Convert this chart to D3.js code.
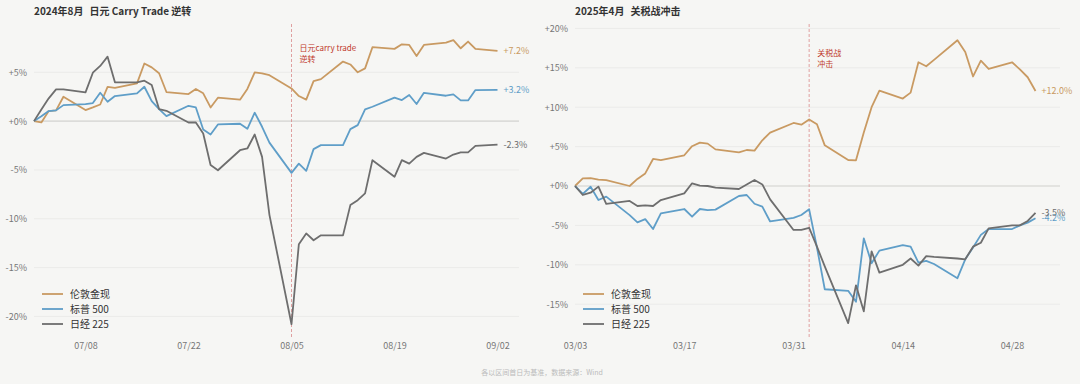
<!DOCTYPE html>
<html>
<head>
<meta charset="utf-8">
<script src="https://cdn.jsdelivr.net/npm/d3@7"></script>
<style>
  html, body { margin: 0; padding: 0; background: #f6f6f4; }
  svg { display: block; font-family: "Noto Sans CJK SC", "Noto Sans", sans-serif; }
</style>
</head>
<body>
<div id="chart"></div>
<script>
// series names + colours
const seriesNames = ["伦敦金现", "标普 500", "日经 225"];
const seriesColors = ["#c99a62", "#5f9ec8", "#6e6e6e"];

// panel 1: 2024-07-01 .. 2024-09-02 (trading days)
const datesA = [
  "2024-07-01","2024-07-02","2024-07-03","2024-07-04","2024-07-05",
  "2024-07-08","2024-07-09","2024-07-10","2024-07-11","2024-07-12",
  "2024-07-15","2024-07-16","2024-07-17","2024-07-18","2024-07-19",
  "2024-07-22","2024-07-23","2024-07-24","2024-07-25","2024-07-26",
  "2024-07-29","2024-07-30","2024-07-31","2024-08-01","2024-08-02",
  "2024-08-05","2024-08-06","2024-08-07","2024-08-08","2024-08-09",
  "2024-08-12","2024-08-13","2024-08-14","2024-08-15","2024-08-16",
  "2024-08-19","2024-08-20","2024-08-21","2024-08-22","2024-08-23",
  "2024-08-26","2024-08-27","2024-08-28","2024-08-29","2024-08-30",
  "2024-09-02"
];
const goldA = [
  0, -0.13, 1.03, 1.1, 2.5,
  1.13, 1.4, 1.7, 3.5, 3.4,
  3.87, 5.9, 5.5, 4.9, 2.98,
  2.77, 3.3, 2.85, 1.4, 2.4,
  2.2, 3.3, 5.0, 4.9, 4.7,
  3.35, 2.57, 2.2, 4.1, 4.3,
  6.1, 5.8, 5.0, 5.4, 7.57,
  7.4, 7.87, 7.8, 6.67, 7.8,
  8.04, 8.3, 7.46, 8.15, 7.39,
  7.2
];
const spxA = [
  0, 0.5, 1.03, 1.1, 1.64,
  1.75, 1.85, 2.9, 1.98, 2.57,
  2.84, 3.52, 2.05, 1.23, 0.51,
  1.57, 1.4, -0.86, -1.37, -0.34,
  -0.27, -0.79, 0.86, -0.58, -2.2,
  -5.3, -4.35, -5.1, -2.87, -2.46,
  -2.46, -0.82, -0.41, 1.2, 1.47,
  2.4, 2.16, 2.67, 1.75, 2.9,
  2.6, 2.74, 2.12, 2.12, 3.18,
  3.2
];
const nkyA = [
  0, 1.2, 2.33, 3.25, 3.25,
  2.94, 4.96, 5.65, 6.6, 3.97,
  3.97, 4.14, 3.7, 1.23, 1.06,
  -0.14, -0.14, -1.27, -4.5, -5.03,
  -2.98, -2.8, -1.37, -3.66, -9.6,
  -20.8, -12.6, -11.5, -12.2, -11.7,
  -11.7, -8.6, -8.1, -7.4, -4.0,
  -5.7, -4.0, -4.35, -3.66, -3.25,
  -3.83, -3.42, -3.2, -3.2, -2.53,
  -2.4
];
const endLabelsA = ["+7.2%", "+3.2%", "-2.3%"];
const xTicksA = ["2024-07-08", "2024-07-22", "2024-08-05", "2024-08-19", "2024-09-02"];
const yTicksA = [-20, -15, -10, -5, 0, 5];

// panel 2: 2025-03-03 .. 2025-05-01
const datesB = [
  "2025-03-03","2025-03-04","2025-03-05","2025-03-06","2025-03-07",
  "2025-03-10","2025-03-11","2025-03-12","2025-03-13","2025-03-14",
  "2025-03-17","2025-03-18","2025-03-19","2025-03-20","2025-03-21",
  "2025-03-24","2025-03-25","2025-03-26","2025-03-27","2025-03-28",
  "2025-03-31","2025-04-01","2025-04-02","2025-04-03","2025-04-04",
  "2025-04-07","2025-04-08","2025-04-09","2025-04-10","2025-04-11",
  "2025-04-14","2025-04-15","2025-04-16","2025-04-17","2025-04-18",
  "2025-04-21","2025-04-22","2025-04-23","2025-04-24","2025-04-25",
  "2025-04-28","2025-04-29","2025-04-30","2025-05-01"
];
const goldB = [
  0, 0.97, 1.0, 0.8, 0.75,
  0, 0.9, 1.6, 3.43, 3.28,
  3.9, 5.05, 5.5, 5.38, 4.65,
  4.27, 4.57, 4.49, 5.8, 6.77,
  8.0, 7.78, 8.45, 7.83, 5.16,
  3.3, 3.26, 6.8, 10.0, 12.1,
  11.1, 11.85, 15.7, 15.2, 16.0,
  18.5, 17.0, 13.9, 15.9, 14.85,
  15.7, 14.8, 13.8, 12.05
];
const spxB = [
  0, -1.0, -0.1, -1.78, -1.35,
  -3.7, -4.62, -4.2, -5.46, -3.47,
  -2.92, -3.9, -2.92, -3.05, -3.0,
  -1.27, -1.14, -2.25, -2.62, -4.5,
  -4.05, -3.68, -2.96, -7.8, -13.1,
  -13.3, -14.7, -6.64, -9.8, -8.2,
  -7.5, -7.7, -9.73, -9.5, -9.9,
  -11.7, -9.3, -7.8, -6.2, -5.46,
  -5.46, -5.0, -4.65, -4.1
];
const nkyB = [
  0, -1.14, -0.85, -0.08, -2.28,
  -1.9, -2.54, -2.45, -2.54, -1.78,
  -0.93, 0.34, 0.04, 0, -0.2,
  -0.38, 0.2, 0.76, 0.2, -1.7,
  -5.58, -5.58, -5.3, -7.7, -10.2,
  -17.4, -12.6, -15.9, -8.3, -11.0,
  -10.0, -9.2, -10.1, -8.9, -9.0,
  -9.2, -9.3, -7.7, -7.2, -5.37,
  -5.0, -5.0, -4.44, -3.4
];
const endLabelsB = ["+12.0%", "-4.2%", "-3.5%"];
const xTicksB = ["2025-03-03", "2025-03-17", "2025-03-31", "2025-04-14", "2025-04-28"];
const yTicksB = [-15, -10, -5, 0, 5, 10, 15, 20];

const W = 1080, H = 384;
const parse = d3.timeParse("%Y-%m-%d");

const svg = d3.select("#chart").append("svg")
  .attr("width", W).attr("height", H);
svg.append("rect").attr("width", W).attr("height", H).attr("fill", "#f6f6f4");

function drawPanel(p) {
  const dates = p.dates.map(parse);
  const x = d3.scaleTime()
    .domain([dates[0], dates[dates.length - 1]])
    .range([p.x0, p.x1]);
  const y = d3.scaleLinear().domain(p.yDomain).range(p.yRange);
  const g = svg.append("g");

  // title (two parts with a wider gap)
  const t = g.append("text")
    .attr("x", p.x0).attr("y", 15)
    .attr("font-size", 10).attr("font-weight", "bold").attr("fill", "#333");
  t.append("tspan").text(p.title[0]);
  t.append("tspan").attr("dx", 6).text(p.title[1]);

  // grid
  g.selectAll(".grid").data(p.yTicks).join("line")
    .attr("x1", p.x0).attr("x2", p.gridEnd)
    .attr("y1", d => y(d)).attr("y2", d => y(d))
    .attr("stroke", d => d === 0 ? "#dcdcda" : "#ebebe9")
    .attr("stroke-width", d => d === 0 ? 1.6 : 1);

  // y axis
  const ya = g.append("g")
    .attr("transform", `translate(${p.x0},0)`)
    .call(d3.axisLeft(y).tickValues(p.yTicks).tickSize(0).tickPadding(7)
      .tickFormat(d => (d >= 0 ? "+" : "") + d + "%"));
  ya.select(".domain").remove();
  ya.selectAll("text").attr("font-size", 9).attr("fill", "#777")
    .attr("font-family", "'Noto Sans CJK SC', sans-serif");

  // x axis
  const xa = g.append("g")
    .attr("transform", `translate(0,${p.xAxisY})`)
    .call(d3.axisBottom(x).tickValues(p.xTicks.map(parse)).tickSize(0).tickPadding(6)
      .tickFormat(d3.timeFormat("%m/%d")));
  xa.select(".domain").remove();
  xa.selectAll("text").attr("font-size", 9).attr("fill", "#777")
    .attr("font-family", "'Noto Sans CJK SC', sans-serif");

  // event marker
  const ex = x(parse(p.event));
  g.append("line")
    .attr("x1", ex).attr("x2", ex).attr("y1", 24).attr("y2", 338)
    .attr("stroke", "#d98a8a").attr("stroke-width", 0.8)
    .attr("stroke-dasharray", "3,2");
  p.eventText.forEach((s, i) => {
    g.append("text")
      .attr("x", ex + 8).attr("y", p.eventY + i * 10.5)
      .attr("font-size", 8).attr("fill", "#c0392b")
      .text(s);
  });

  // lines
  const line = d3.line().x(d => x(d[0])).y(d => y(d[1]));
  p.series.forEach((vals, i) => {
    const pts = vals.map((v, j) => [dates[j], v]);
    g.append("path").datum(pts)
      .attr("d", line)
      .attr("fill", "none")
      .attr("stroke", seriesColors[i])
      .attr("stroke-width", 1.8)
      .attr("stroke-linejoin", "round");
    const last = pts[pts.length - 1];
    g.append("text")
      .attr("x", x(last[0]) + 6).attr("y", y(last[1]))
      .attr("dy", "0.35em")
      .attr("font-size", 9).attr("fill", seriesColors[i])
      .text(p.endLabels[i]);
  });

  // legend
  seriesNames.forEach((name, i) => {
    const ly = 294 + i * 15;
    g.append("line")
      .attr("x1", p.x0 + 8).attr("x2", p.x0 + 29)
      .attr("y1", ly).attr("y2", ly)
      .attr("stroke", seriesColors[i]).attr("stroke-width", 1.8);
    g.append("text")
      .attr("x", p.x0 + 36).attr("y", ly).attr("dy", "0.35em")
      .attr("font-size", 10).attr("fill", "#333")
      .text(name);
  });
}

drawPanel({
  title: ["2024年8月", "日元 Carry Trade 逆转"],
  dates: datesA, series: [goldA, spxA, nkyA], endLabels: endLabelsA,
  x0: 34, x1: 497.5, gridEnd: 519,
  yDomain: [-20, 5], yRange: [316.4, 72.3], yTicks: yTicksA,
  xTicks: xTicksA, xAxisY: 337,
  event: "2024-08-05", eventText: ["日元carry trade", "逆转"], eventY: 51
});

drawPanel({
  title: ["2025年4月", "关税战冲击"],
  dates: datesB, series: [goldB, spxB, nkyB], endLabels: endLabelsB,
  x0: 575, x1: 1035.5, gridEnd: 1060,
  yDomain: [-15, 20], yRange: [304.2, 28.4], yTicks: yTicksB,
  xTicks: xTicksB, xAxisY: 337,
  event: "2025-04-02", eventText: ["关税战", "冲击"], eventY: 56
});

// footer
svg.append("text")
  .attr("x", 542).attr("y", 375)
  .attr("text-anchor", "middle")
  .attr("font-size", 7).attr("fill", "#bbb")
  .text("各以区间首日为基准，数据来源：Wind");
</script>
</body>
</html>
